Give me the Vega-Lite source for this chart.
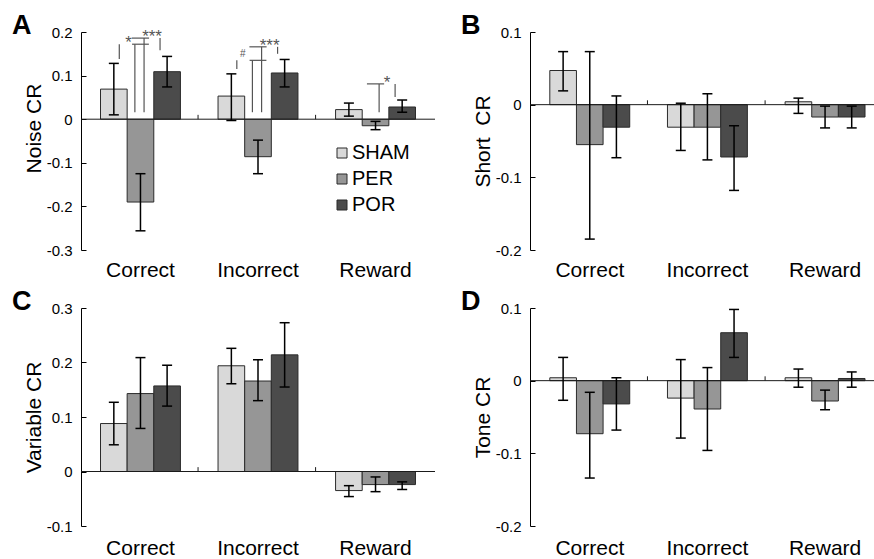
{
  "$schema": "https://vega.github.io/schema/vega-lite/v6.json",
  "padding": {"left": 12, "top": 12, "right": 0, "bottom": 0},
  "columns": 2,
  "spacing": {"row": 8, "column": 25},
  "config": {
    "font": "Liberation Sans",
    "view": {"stroke": null},
    "axis": {"labelFont": "Liberation Sans", "titleFont": "Liberation Sans", "labelColor": "black", "titleColor": "black", "domainColor": "black", "tickColor": "black", "grid": false},
    "legend": {"labelFont": "Liberation Sans"},
    "title": {"anchor": "start", "frame": "group", "fontSize": 27, "fontWeight": "bold", "font": "Liberation Sans", "baseline": "alphabetic", "dx": -69, "dy": -8, "offset": -23, "color": "black"}
  },
  "datasets": {
    "noise": [
      {"cat": "Correct", "group": "SHAM", "value": 0.069, "lo": 0.010, "hi": 0.128},
      {"cat": "Correct", "group": "PER", "value": -0.190, "lo": -0.256, "hi": -0.125},
      {"cat": "Correct", "group": "POR", "value": 0.109, "lo": 0.074, "hi": 0.144},
      {"cat": "Incorrect", "group": "SHAM", "value": 0.053, "lo": -0.003, "hi": 0.104},
      {"cat": "Incorrect", "group": "PER", "value": -0.086, "lo": -0.125, "hi": -0.048},
      {"cat": "Incorrect", "group": "POR", "value": 0.106, "lo": 0.074, "hi": 0.137},
      {"cat": "Reward", "group": "SHAM", "value": 0.022, "lo": 0.007, "hi": 0.037},
      {"cat": "Reward", "group": "PER", "value": -0.015, "lo": -0.024, "hi": -0.005},
      {"cat": "Reward", "group": "POR", "value": 0.028, "lo": 0.016, "hi": 0.044}
    ],
    "short": [
      {"cat": "Correct", "group": "SHAM", "value": 0.047, "lo": 0.019, "hi": 0.073},
      {"cat": "Correct", "group": "PER", "value": -0.055, "lo": -0.185, "hi": 0.073},
      {"cat": "Correct", "group": "POR", "value": -0.031, "lo": -0.073, "hi": 0.012},
      {"cat": "Incorrect", "group": "SHAM", "value": -0.031, "lo": -0.063, "hi": 0.002},
      {"cat": "Incorrect", "group": "PER", "value": -0.031, "lo": -0.076, "hi": 0.015},
      {"cat": "Incorrect", "group": "POR", "value": -0.072, "lo": -0.118, "hi": -0.029},
      {"cat": "Reward", "group": "SHAM", "value": 0.004, "lo": -0.012, "hi": 0.009},
      {"cat": "Reward", "group": "PER", "value": -0.017, "lo": -0.032, "hi": -0.002},
      {"cat": "Reward", "group": "POR", "value": -0.017, "lo": -0.032, "hi": -0.002}
    ],
    "variable": [
      {"cat": "Correct", "group": "SHAM", "value": 0.088, "lo": 0.049, "hi": 0.127},
      {"cat": "Correct", "group": "PER", "value": 0.143, "lo": 0.079, "hi": 0.209},
      {"cat": "Correct", "group": "POR", "value": 0.157, "lo": 0.120, "hi": 0.195},
      {"cat": "Incorrect", "group": "SHAM", "value": 0.194, "lo": 0.161, "hi": 0.226},
      {"cat": "Incorrect", "group": "PER", "value": 0.166, "lo": 0.130, "hi": 0.205},
      {"cat": "Incorrect", "group": "POR", "value": 0.214, "lo": 0.155, "hi": 0.273},
      {"cat": "Reward", "group": "SHAM", "value": -0.035, "lo": -0.046, "hi": -0.026},
      {"cat": "Reward", "group": "PER", "value": -0.024, "lo": -0.037, "hi": -0.010},
      {"cat": "Reward", "group": "POR", "value": -0.024, "lo": -0.033, "hi": -0.019}
    ],
    "tone": [
      {"cat": "Correct", "group": "SHAM", "value": 0.004, "lo": -0.027, "hi": 0.032},
      {"cat": "Correct", "group": "PER", "value": -0.073, "lo": -0.134, "hi": -0.016},
      {"cat": "Correct", "group": "POR", "value": -0.032, "lo": -0.068, "hi": 0.004},
      {"cat": "Incorrect", "group": "SHAM", "value": -0.024, "lo": -0.079, "hi": 0.029},
      {"cat": "Incorrect", "group": "PER", "value": -0.039, "lo": -0.096, "hi": 0.018},
      {"cat": "Incorrect", "group": "POR", "value": 0.066, "lo": 0.032, "hi": 0.098},
      {"cat": "Reward", "group": "SHAM", "value": 0.004, "lo": -0.009, "hi": 0.016},
      {"cat": "Reward", "group": "PER", "value": -0.028, "lo": -0.040, "hi": -0.013},
      {"cat": "Reward", "group": "POR", "value": 0.003, "lo": -0.009, "hi": 0.012}
    ],
    "brackets": [
      {"cat": "Correct", "pair": "SP", "low1": 0.138, "top": 0.172, "low2": 0.016, "label": "*"},
      {"cat": "Correct", "pair": "PP", "low1": 0.016, "top": 0.186, "low2": 0.158, "label": "***"},
      {"cat": "Incorrect", "pair": "SP", "low1": 0.115, "top": 0.135, "low2": 0.016, "label": "#"},
      {"cat": "Incorrect", "pair": "PP", "low1": 0.016, "top": 0.166, "low2": 0.150, "label": "***"},
      {"cat": "Reward", "pair": "PP", "low1": 0.016, "top": 0.081, "low2": 0.051, "label": "*"}
    ],
    "sep": [{"cat": "Incorrect"}, {"cat": "Reward"}],
    "one": [{}]
  },
  "concat": [
    {
      "width": 354, "height": 218,
      "title": {"text": "A"},
      "layer": [
        {"data": {"name": "noise"}, "mark": {"type": "bar", "stroke": "#2b2b2b", "strokeWidth": 1},
         "encoding": {
           "x": {"field": "cat", "type": "nominal", "sort": ["Correct", "Incorrect", "Reward"], "scale": {"paddingInner": 0.32, "paddingOuter": 0.166}, "title": null,
                 "axis": {"orient": "bottom", "domain": false, "ticks": false, "labelFontSize": 21, "labelPadding": 9, "labelAngle": 0}},
           "xOffset": {"field": "group", "type": "nominal", "sort": ["SHAM", "PER", "POR"], "scale": {"paddingInner": 0, "paddingOuter": 0}},
           "y": {"field": "value", "type": "quantitative", "scale": {"domain": [-0.3, 0.2], "nice": false, "zero": false},
                 "axis": {"title": "Noise CR", "values": [0.2, 0.1, 0, -0.1, -0.2, -0.3], "labelExpr": "replace(format(datum.value, '.1~f'), '\u2212', '-')", "tickSize": -5, "labelPadding": 14, "labelFontSize": 15, "titleFontSize": 21, "titleFontWeight": "normal", "titlePadding": 2, "titleY": 96}},
           "color": {"field": "group", "type": "nominal", "scale": {"domain": ["SHAM", "PER", "POR"], "range": ["#d9d9d9", "#969696", "#4b4b4b"]},
                     "legend": {"orient": "none", "legendX": 251, "legendY": 111, "title": null, "symbolType": "square", "symbolSize": 100, "symbolStrokeColor": "#2b2b2b", "symbolStrokeWidth": 1, "labelFontSize": 20, "labelColor": "black", "labelOffset": 0, "rowPadding": 6, "padding": 0}}
         }},
        {"data": {"name": "one"}, "mark": {"type": "rule", "color": "#1a1a1a", "strokeWidth": 1},
         "encoding": {"y": {"datum": 0, "type": "quantitative", "scale": {"domain": [-0.3, 0.2], "nice": false, "zero": false}}}},
        {"data": {"name": "noise"}, "mark": {"type": "rule", "color": "black", "strokeWidth": 1.5},
         "encoding": {
           "x": {"field": "cat", "type": "nominal", "sort": ["Correct", "Incorrect", "Reward"], "scale": {"paddingInner": 0.32, "paddingOuter": 0.166}, "title": null},
           "xOffset": {"field": "group", "type": "nominal", "sort": ["SHAM", "PER", "POR"], "scale": {"paddingInner": 0, "paddingOuter": 0}},
           "y": {"field": "lo", "type": "quantitative", "scale": {"domain": [-0.3, 0.2], "nice": false, "zero": false}},
           "y2": {"field": "hi"}
         }},
        {"data": {"name": "noise"}, "mark": {"type": "tick", "orient": "horizontal", "size": 10, "thickness": 1.5, "color": "black", "opacity": 1},
         "encoding": {
           "x": {"field": "cat", "type": "nominal", "sort": ["Correct", "Incorrect", "Reward"], "scale": {"paddingInner": 0.32, "paddingOuter": 0.166}, "title": null},
           "xOffset": {"field": "group", "type": "nominal", "sort": ["SHAM", "PER", "POR"], "scale": {"paddingInner": 0, "paddingOuter": 0}},
           "y": {"field": "hi", "type": "quantitative", "scale": {"domain": [-0.3, 0.2], "nice": false, "zero": false}}
         }},
        {"data": {"name": "noise"}, "mark": {"type": "tick", "orient": "horizontal", "size": 10, "thickness": 1.5, "color": "black", "opacity": 1},
         "encoding": {
           "x": {"field": "cat", "type": "nominal", "sort": ["Correct", "Incorrect", "Reward"], "scale": {"paddingInner": 0.32, "paddingOuter": 0.166}, "title": null},
           "xOffset": {"field": "group", "type": "nominal", "sort": ["SHAM", "PER", "POR"], "scale": {"paddingInner": 0, "paddingOuter": 0}},
           "y": {"field": "lo", "type": "quantitative", "scale": {"domain": [-0.3, 0.2], "nice": false, "zero": false}}
         }},
        {"data": {"name": "sep"}, "mark": {"type": "rule", "color": "#1a1a1a", "strokeWidth": 1},
         "encoding": {
           "x": {"field": "cat", "type": "nominal", "sort": ["Correct", "Incorrect", "Reward"], "scale": {"paddingInner": 0.32, "paddingOuter": 0.166}, "title": null, "bandPosition": -0.25},
           "y": {"datum": 0, "type": "quantitative", "scale": {"domain": [-0.3, 0.2], "nice": false, "zero": false}},
           "y2": {"datum": 0.01}
         }},
        {"data": {"name": "brackets"}, "transform": [{"filter": "datum.pair == 'SP'"}], "mark": {"type": "rule", "color": "#555555", "strokeWidth": 1.2},
         "encoding": {
           "x": {"field": "cat", "type": "nominal", "sort": ["Correct", "Incorrect", "Reward"], "scale": {"paddingInner": 0.32, "paddingOuter": 0.166}, "title": null, "bandPosition": 0.235},
           "y": {"field": "low1", "type": "quantitative", "scale": {"domain": [-0.3, 0.2], "nice": false, "zero": false}},
           "y2": {"field": "top"}
         }},
        {"data": {"name": "brackets"}, "transform": [{"filter": "datum.pair == 'SP'"}], "mark": {"type": "rule", "color": "#555555", "strokeWidth": 1.2},
         "encoding": {
           "x": {"field": "cat", "type": "nominal", "sort": ["Correct", "Incorrect", "Reward"], "scale": {"paddingInner": 0.32, "paddingOuter": 0.166}, "title": null, "bandPosition": 0.43},
           "y": {"field": "low2", "type": "quantitative", "scale": {"domain": [-0.3, 0.2], "nice": false, "zero": false}},
           "y2": {"field": "top"}
         }},
        {"data": {"name": "brackets"}, "transform": [{"filter": "datum.pair == 'PP'"}], "mark": {"type": "rule", "color": "#555555", "strokeWidth": 1.2},
         "encoding": {
           "x": {"field": "cat", "type": "nominal", "sort": ["Correct", "Incorrect", "Reward"], "scale": {"paddingInner": 0.32, "paddingOuter": 0.166}, "title": null, "bandPosition": 0.545},
           "y": {"field": "low1", "type": "quantitative", "scale": {"domain": [-0.3, 0.2], "nice": false, "zero": false}},
           "y2": {"field": "top"}
         }},
        {"data": {"name": "brackets"}, "transform": [{"filter": "datum.pair == 'PP'"}], "mark": {"type": "rule", "color": "#555555", "strokeWidth": 1.2},
         "encoding": {
           "x": {"field": "cat", "type": "nominal", "sort": ["Correct", "Incorrect", "Reward"], "scale": {"paddingInner": 0.32, "paddingOuter": 0.166}, "title": null, "bandPosition": 0.745},
           "y": {"field": "low2", "type": "quantitative", "scale": {"domain": [-0.3, 0.2], "nice": false, "zero": false}},
           "y2": {"field": "top"}
         }},
        {"data": {"name": "brackets"}, "transform": [{"filter": "datum.pair == 'SP'"}], "mark": {"type": "tick", "orient": "horizontal", "size": 16.8, "thickness": 1.2, "color": "#555555", "opacity": 1},
         "encoding": {
           "x": {"field": "cat", "type": "nominal", "sort": ["Correct", "Incorrect", "Reward"], "scale": {"paddingInner": 0.32, "paddingOuter": 0.166}, "title": null, "bandPosition": 0.3325},
           "y": {"field": "top", "type": "quantitative", "scale": {"domain": [-0.3, 0.2], "nice": false, "zero": false}}
         }},
        {"data": {"name": "brackets"}, "transform": [{"filter": "datum.pair == 'PP'"}], "mark": {"type": "tick", "orient": "horizontal", "size": 17.2, "thickness": 1.2, "color": "#555555", "opacity": 1},
         "encoding": {
           "x": {"field": "cat", "type": "nominal", "sort": ["Correct", "Incorrect", "Reward"], "scale": {"paddingInner": 0.32, "paddingOuter": 0.166}, "title": null, "bandPosition": 0.645},
           "y": {"field": "top", "type": "quantitative", "scale": {"domain": [-0.3, 0.2], "nice": false, "zero": false}}
         }},
        {"data": {"name": "brackets"}, "transform": [{"filter": "datum.pair == 'SP' && datum.label != '#'"}], "mark": {"type": "text", "fontSize": 17, "color": "#555555", "baseline": "alphabetic", "dy": 4},
         "encoding": {
           "x": {"field": "cat", "type": "nominal", "sort": ["Correct", "Incorrect", "Reward"], "scale": {"paddingInner": 0.32, "paddingOuter": 0.166}, "title": null, "bandPosition": 0.35},
           "y": {"field": "top", "type": "quantitative", "scale": {"domain": [-0.3, 0.2], "nice": false, "zero": false}},
           "text": {"field": "label"}
         }},
        {"data": {"name": "brackets"}, "transform": [{"filter": "datum.label == '#'"}], "mark": {"type": "text", "fontSize": 10, "color": "#555555", "baseline": "alphabetic", "dy": -3},
         "encoding": {
           "x": {"field": "cat", "type": "nominal", "sort": ["Correct", "Incorrect", "Reward"], "scale": {"paddingInner": 0.32, "paddingOuter": 0.166}, "title": null, "bandPosition": 0.31},
           "y": {"field": "top", "type": "quantitative", "scale": {"domain": [-0.3, 0.2], "nice": false, "zero": false}},
           "text": {"field": "label"}
         }},
        {"data": {"name": "brackets"}, "transform": [{"filter": "datum.pair == 'PP'"}], "mark": {"type": "text", "fontSize": 17, "color": "#555555", "baseline": "alphabetic", "dy": 4},
         "encoding": {
           "x": {"field": "cat", "type": "nominal", "sort": ["Correct", "Incorrect", "Reward"], "scale": {"paddingInner": 0.32, "paddingOuter": 0.166}, "title": null, "bandPosition": 0.645},
           "y": {"field": "top", "type": "quantitative", "scale": {"domain": [-0.3, 0.2], "nice": false, "zero": false}},
           "text": {"field": "label"}
         }}
      ]
    },
    {
      "width": 344, "height": 218,
      "title": {"text": "B"},
      "layer": [
        {"data": {"name": "short"}, "mark": {"type": "bar", "stroke": "#2b2b2b", "strokeWidth": 1},
         "encoding": {
           "x": {"field": "cat", "type": "nominal", "sort": ["Correct", "Incorrect", "Reward"], "scale": {"paddingInner": 0.32, "paddingOuter": 0.122, "align": 0.69}, "title": null,
                 "axis": {"orient": "bottom", "domain": false, "ticks": false, "labelFontSize": 21, "labelPadding": 9, "labelAngle": 0}},
           "xOffset": {"field": "group", "type": "nominal", "sort": ["SHAM", "PER", "POR"], "scale": {"paddingInner": 0, "paddingOuter": 0}},
           "y": {"field": "value", "type": "quantitative", "scale": {"domain": [-0.2, 0.1], "nice": false, "zero": false},
                 "axis": {"title": "Short\u00a0 CR", "values": [0.1, 0, -0.1, -0.2], "labelExpr": "replace(format(datum.value, '.1~f'), '\u2212', '-')", "tickSize": -5, "labelPadding": 14, "labelFontSize": 15, "titleFontSize": 21, "titleFontWeight": "normal", "titlePadding": 2}},
           "color": {"field": "group", "type": "nominal", "scale": {"domain": ["SHAM", "PER", "POR"], "range": ["#d9d9d9", "#969696", "#4b4b4b"]}, "legend": null}
         }},
        {"data": {"name": "one"}, "mark": {"type": "rule", "color": "#1a1a1a", "strokeWidth": 1},
         "encoding": {"y": {"datum": 0, "type": "quantitative", "scale": {"domain": [-0.2, 0.1], "nice": false, "zero": false}}}},
        {"data": {"name": "short"}, "mark": {"type": "rule", "color": "black", "strokeWidth": 1.5},
         "encoding": {
           "x": {"field": "cat", "type": "nominal", "sort": ["Correct", "Incorrect", "Reward"], "scale": {"paddingInner": 0.32, "paddingOuter": 0.122, "align": 0.69}, "title": null},
           "xOffset": {"field": "group", "type": "nominal", "sort": ["SHAM", "PER", "POR"], "scale": {"paddingInner": 0, "paddingOuter": 0}},
           "y": {"field": "lo", "type": "quantitative", "scale": {"domain": [-0.2, 0.1], "nice": false, "zero": false}},
           "y2": {"field": "hi"}
         }},
        {"data": {"name": "short"}, "mark": {"type": "tick", "orient": "horizontal", "size": 10, "thickness": 1.5, "color": "black", "opacity": 1},
         "encoding": {
           "x": {"field": "cat", "type": "nominal", "sort": ["Correct", "Incorrect", "Reward"], "scale": {"paddingInner": 0.32, "paddingOuter": 0.122, "align": 0.69}, "title": null},
           "xOffset": {"field": "group", "type": "nominal", "sort": ["SHAM", "PER", "POR"], "scale": {"paddingInner": 0, "paddingOuter": 0}},
           "y": {"field": "hi", "type": "quantitative", "scale": {"domain": [-0.2, 0.1], "nice": false, "zero": false}}
         }},
        {"data": {"name": "short"}, "mark": {"type": "tick", "orient": "horizontal", "size": 10, "thickness": 1.5, "color": "black", "opacity": 1},
         "encoding": {
           "x": {"field": "cat", "type": "nominal", "sort": ["Correct", "Incorrect", "Reward"], "scale": {"paddingInner": 0.32, "paddingOuter": 0.122, "align": 0.69}, "title": null},
           "xOffset": {"field": "group", "type": "nominal", "sort": ["SHAM", "PER", "POR"], "scale": {"paddingInner": 0, "paddingOuter": 0}},
           "y": {"field": "lo", "type": "quantitative", "scale": {"domain": [-0.2, 0.1], "nice": false, "zero": false}}
         }},
        {"data": {"name": "sep"}, "mark": {"type": "rule", "color": "#1a1a1a", "strokeWidth": 1},
         "encoding": {
           "x": {"field": "cat", "type": "nominal", "sort": ["Correct", "Incorrect", "Reward"], "scale": {"paddingInner": 0.32, "paddingOuter": 0.122, "align": 0.69}, "title": null, "bandPosition": -0.25},
           "y": {"datum": 0, "type": "quantitative", "scale": {"domain": [-0.2, 0.1], "nice": false, "zero": false}},
           "y2": {"datum": 0.006}
         }}
      ]
    },
    {
      "width": 354, "height": 218,
      "title": {"text": "C"},
      "layer": [
        {"data": {"name": "variable"}, "mark": {"type": "bar", "stroke": "#2b2b2b", "strokeWidth": 1},
         "encoding": {
           "x": {"field": "cat", "type": "nominal", "sort": ["Correct", "Incorrect", "Reward"], "scale": {"paddingInner": 0.32, "paddingOuter": 0.166}, "title": null,
                 "axis": {"orient": "bottom", "domain": false, "ticks": false, "labelFontSize": 21, "labelPadding": 11, "labelAngle": 0}},
           "xOffset": {"field": "group", "type": "nominal", "sort": ["SHAM", "PER", "POR"], "scale": {"paddingInner": 0, "paddingOuter": 0}},
           "y": {"field": "value", "type": "quantitative", "scale": {"domain": [-0.1, 0.3], "nice": false, "zero": false},
                 "axis": {"title": "Variable CR", "values": [0.3, 0.2, 0.1, 0, -0.1], "labelExpr": "replace(format(datum.value, '.1~f'), '\u2212', '-')", "tickSize": -5, "labelPadding": 14, "labelFontSize": 15, "titleFontSize": 21, "titleFontWeight": "normal", "titlePadding": 2}},
           "color": {"field": "group", "type": "nominal", "scale": {"domain": ["SHAM", "PER", "POR"], "range": ["#d9d9d9", "#969696", "#4b4b4b"]}, "legend": null}
         }},
        {"data": {"name": "one"}, "mark": {"type": "rule", "color": "#1a1a1a", "strokeWidth": 1},
         "encoding": {"y": {"datum": 0, "type": "quantitative", "scale": {"domain": [-0.1, 0.3], "nice": false, "zero": false}}}},
        {"data": {"name": "variable"}, "mark": {"type": "rule", "color": "black", "strokeWidth": 1.5},
         "encoding": {
           "x": {"field": "cat", "type": "nominal", "sort": ["Correct", "Incorrect", "Reward"], "scale": {"paddingInner": 0.32, "paddingOuter": 0.166}, "title": null},
           "xOffset": {"field": "group", "type": "nominal", "sort": ["SHAM", "PER", "POR"], "scale": {"paddingInner": 0, "paddingOuter": 0}},
           "y": {"field": "lo", "type": "quantitative", "scale": {"domain": [-0.1, 0.3], "nice": false, "zero": false}},
           "y2": {"field": "hi"}
         }},
        {"data": {"name": "variable"}, "mark": {"type": "tick", "orient": "horizontal", "size": 10, "thickness": 1.5, "color": "black", "opacity": 1},
         "encoding": {
           "x": {"field": "cat", "type": "nominal", "sort": ["Correct", "Incorrect", "Reward"], "scale": {"paddingInner": 0.32, "paddingOuter": 0.166}, "title": null},
           "xOffset": {"field": "group", "type": "nominal", "sort": ["SHAM", "PER", "POR"], "scale": {"paddingInner": 0, "paddingOuter": 0}},
           "y": {"field": "hi", "type": "quantitative", "scale": {"domain": [-0.1, 0.3], "nice": false, "zero": false}}
         }},
        {"data": {"name": "variable"}, "mark": {"type": "tick", "orient": "horizontal", "size": 10, "thickness": 1.5, "color": "black", "opacity": 1},
         "encoding": {
           "x": {"field": "cat", "type": "nominal", "sort": ["Correct", "Incorrect", "Reward"], "scale": {"paddingInner": 0.32, "paddingOuter": 0.166}, "title": null},
           "xOffset": {"field": "group", "type": "nominal", "sort": ["SHAM", "PER", "POR"], "scale": {"paddingInner": 0, "paddingOuter": 0}},
           "y": {"field": "lo", "type": "quantitative", "scale": {"domain": [-0.1, 0.3], "nice": false, "zero": false}}
         }},
        {"data": {"name": "sep"}, "mark": {"type": "rule", "color": "#1a1a1a", "strokeWidth": 1},
         "encoding": {
           "x": {"field": "cat", "type": "nominal", "sort": ["Correct", "Incorrect", "Reward"], "scale": {"paddingInner": 0.32, "paddingOuter": 0.166}, "title": null, "bandPosition": -0.25},
           "y": {"datum": 0, "type": "quantitative", "scale": {"domain": [-0.1, 0.3], "nice": false, "zero": false}},
           "y2": {"datum": 0.008}
         }}
      ]
    },
    {
      "width": 344, "height": 218,
      "title": {"text": "D"},
      "layer": [
        {"data": {"name": "tone"}, "mark": {"type": "bar", "stroke": "#2b2b2b", "strokeWidth": 1},
         "encoding": {
           "x": {"field": "cat", "type": "nominal", "sort": ["Correct", "Incorrect", "Reward"], "scale": {"paddingInner": 0.32, "paddingOuter": 0.122, "align": 0.69}, "title": null,
                 "axis": {"orient": "bottom", "domain": false, "ticks": false, "labelFontSize": 21, "labelPadding": 11, "labelAngle": 0}},
           "xOffset": {"field": "group", "type": "nominal", "sort": ["SHAM", "PER", "POR"], "scale": {"paddingInner": 0, "paddingOuter": 0}},
           "y": {"field": "value", "type": "quantitative", "scale": {"domain": [-0.2, 0.1], "nice": false, "zero": false},
                 "axis": {"title": "Tone CR", "values": [0.1, 0, -0.1, -0.2], "labelExpr": "replace(format(datum.value, '.1~f'), '\u2212', '-')", "tickSize": -5, "labelPadding": 14, "labelFontSize": 15, "titleFontSize": 21, "titleFontWeight": "normal", "titlePadding": 2}},
           "color": {"field": "group", "type": "nominal", "scale": {"domain": ["SHAM", "PER", "POR"], "range": ["#d9d9d9", "#969696", "#4b4b4b"]}, "legend": null}
         }},
        {"data": {"name": "one"}, "mark": {"type": "rule", "color": "#1a1a1a", "strokeWidth": 1},
         "encoding": {"y": {"datum": 0, "type": "quantitative", "scale": {"domain": [-0.2, 0.1], "nice": false, "zero": false}}}},
        {"data": {"name": "tone"}, "mark": {"type": "rule", "color": "black", "strokeWidth": 1.5},
         "encoding": {
           "x": {"field": "cat", "type": "nominal", "sort": ["Correct", "Incorrect", "Reward"], "scale": {"paddingInner": 0.32, "paddingOuter": 0.122, "align": 0.69}, "title": null},
           "xOffset": {"field": "group", "type": "nominal", "sort": ["SHAM", "PER", "POR"], "scale": {"paddingInner": 0, "paddingOuter": 0}},
           "y": {"field": "lo", "type": "quantitative", "scale": {"domain": [-0.2, 0.1], "nice": false, "zero": false}},
           "y2": {"field": "hi"}
         }},
        {"data": {"name": "tone"}, "mark": {"type": "tick", "orient": "horizontal", "size": 10, "thickness": 1.5, "color": "black", "opacity": 1},
         "encoding": {
           "x": {"field": "cat", "type": "nominal", "sort": ["Correct", "Incorrect", "Reward"], "scale": {"paddingInner": 0.32, "paddingOuter": 0.122, "align": 0.69}, "title": null},
           "xOffset": {"field": "group", "type": "nominal", "sort": ["SHAM", "PER", "POR"], "scale": {"paddingInner": 0, "paddingOuter": 0}},
           "y": {"field": "hi", "type": "quantitative", "scale": {"domain": [-0.2, 0.1], "nice": false, "zero": false}}
         }},
        {"data": {"name": "tone"}, "mark": {"type": "tick", "orient": "horizontal", "size": 10, "thickness": 1.5, "color": "black", "opacity": 1},
         "encoding": {
           "x": {"field": "cat", "type": "nominal", "sort": ["Correct", "Incorrect", "Reward"], "scale": {"paddingInner": 0.32, "paddingOuter": 0.122, "align": 0.69}, "title": null},
           "xOffset": {"field": "group", "type": "nominal", "sort": ["SHAM", "PER", "POR"], "scale": {"paddingInner": 0, "paddingOuter": 0}},
           "y": {"field": "lo", "type": "quantitative", "scale": {"domain": [-0.2, 0.1], "nice": false, "zero": false}}
         }},
        {"data": {"name": "sep"}, "mark": {"type": "rule", "color": "#1a1a1a", "strokeWidth": 1},
         "encoding": {
           "x": {"field": "cat", "type": "nominal", "sort": ["Correct", "Incorrect", "Reward"], "scale": {"paddingInner": 0.32, "paddingOuter": 0.122, "align": 0.69}, "title": null, "bandPosition": -0.25},
           "y": {"datum": 0, "type": "quantitative", "scale": {"domain": [-0.2, 0.1], "nice": false, "zero": false}},
           "y2": {"datum": 0.006}
         }}
      ]
    }
  ]
}
